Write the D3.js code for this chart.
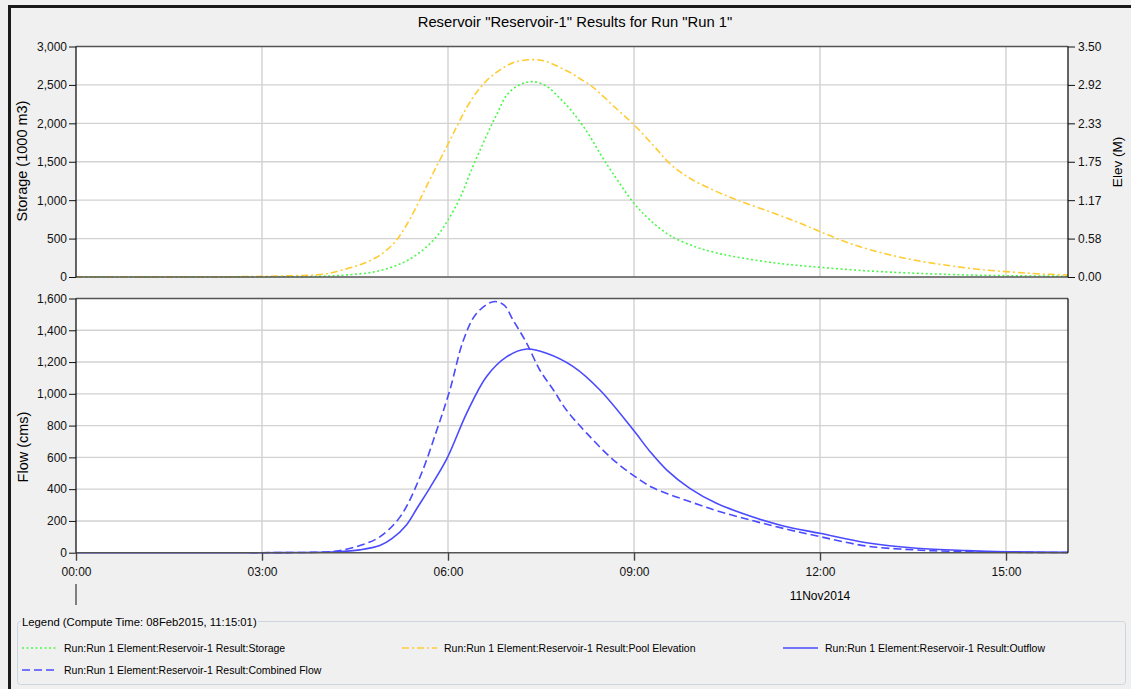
<!DOCTYPE html>
<html>
<head>
<meta charset="utf-8">
<script src="https://cdn.jsdelivr.net/npm/d3@7"></script>
<style>
  body { margin: 0; background: #f0f0f0; }
  svg { display: block; font-family: "Liberation Sans", Arial, sans-serif; }
  .tick text { font-size: 12px; fill: #111; }
</style>
</head>
<body>
<svg id="chart" width="1131" height="689"></svg>
<script>
// hours after 11Nov2014 00:00
const storageHours  = [0, 2, 3, 3.5, 3.9, 4.2, 4.5, 4.8, 5.1, 5.4, 5.65, 5.85, 6.0, 6.2, 6.4, 6.6, 6.8, 6.95, 7.15, 7.37, 7.6, 7.8, 8.0, 8.25, 8.45, 8.65, 9.0, 9.26, 9.58, 10.0, 10.3, 10.6, 11.3, 12.0, 12.8, 13.56, 14.4, 15.2, 16];
const storageValues = [0, 0, 2, 4, 8, 18, 35, 65, 130, 240, 390, 560, 740, 1040, 1436, 1800, 2140, 2370, 2500, 2543, 2478, 2330, 2155, 1880, 1610, 1360, 960, 740, 540, 390, 320, 268, 180, 126, 78, 48, 26, 15, 10];

const elevHours  = [0, 2, 3, 3.5, 3.85, 4.1, 4.42, 4.65, 4.85, 5.0, 5.17, 5.35, 5.55, 5.75, 5.98, 6.15, 6.3, 6.45, 6.62, 6.8, 6.95, 7.1, 7.35, 7.5, 7.65, 7.81, 8.0, 8.13, 8.3, 8.45, 8.7, 8.98, 9.31, 9.58, 9.9, 10.28, 10.66, 11.19, 11.62, 12.0, 12.48, 13.02, 13.56, 14.1, 14.63, 15.17, 15.5, 16];
const elevValues = [0, 0, 0.01, 0.02, 0.03, 0.06, 0.14, 0.21, 0.30, 0.40, 0.56, 0.82, 1.18, 1.56, 1.98, 2.3, 2.57, 2.79, 2.98, 3.12, 3.21, 3.27, 3.30, 3.29, 3.25, 3.18, 3.09, 3.01, 2.91, 2.79, 2.57, 2.33, 2.00, 1.72, 1.50, 1.32, 1.17, 0.99, 0.84, 0.69, 0.51, 0.36, 0.25, 0.17, 0.11, 0.07, 0.05, 0.03];

const outflowHours  = [0, 3, 3.5, 4.0, 4.2, 4.58, 4.9, 5.1, 5.33, 5.5, 5.71, 5.98, 6.3, 6.62, 6.95, 7.27, 7.59, 8.02, 8.45, 8.99, 9.26, 9.53, 9.9, 10.33, 10.87, 11.41, 12.0, 12.75, 13.56, 14.37, 15.0, 16];
const outflowValues = [0, 0, 1, 3, 5, 18, 45, 90, 175, 280, 410, 590, 877, 1108, 1234, 1282, 1255, 1171, 1024, 772, 636, 520, 405, 311, 231, 168, 122, 63, 28, 13, 6, 2];

const combinedHours  = [2.8, 3.5, 4.0, 4.2, 4.58, 4.9, 5.23, 5.55, 5.82, 6.03, 6.25, 6.46, 6.73, 6.9, 7.05, 7.27, 7.48, 7.7, 7.91, 8.24, 8.67, 9.1, 9.3, 9.55, 9.8, 10.06, 10.33, 10.87, 11.41, 12.0, 12.75, 13.56, 14.37, 15.0, 16];
const combinedValues = [0, 1, 4, 10, 45, 100, 227, 478, 772, 1024, 1339, 1506, 1580, 1560, 1464, 1318, 1150, 1024, 898, 751, 583, 457, 410, 370, 335, 300, 265, 206, 153, 101, 42, 17, 6, 3, 1];

const storageTicks = [0, 500, 1000, 1500, 2000, 2500, 3000];
const elevTickLabels = ["0.00", "0.58", "1.17", "1.75", "2.33", "2.92", "3.50"];
const flowTicks = [0, 200, 400, 600, 800, 1000, 1200, 1400, 1600];

const legendItems = [
  "Run:Run 1 Element:Reservoir-1 Result:Storage",
  "Run:Run 1 Element:Reservoir-1 Result:Pool Elevation",
  "Run:Run 1 Element:Reservoir-1 Result:Outflow",
  "Run:Run 1 Element:Reservoir-1 Result:Combined Flow"
];

const green = "#48f848", yellow = "#ffcc33", blue = "#4a4aff";
const styles = [
  {color: green, dash: "2,2.5"},
  {color: yellow, dash: "7,3,2,3"},
  {color: blue, dash: null},
  {color: blue, dash: "8,4"}
];

const day0 = new Date(2014, 10, 11, 0, 0);
const toDate = h => new Date(day0.getTime() + h * 3600e3);
const zip = (hs, vs) => hs.map((h, i) => ({t: toDate(h), v: vs[i]}));

const svg = d3.select("#chart");
const left = 76, right = 1068;
const top1 = 46.5, bot1 = 277, top2 = 298.5, bot2 = 552.7;

const x = d3.scaleTime().domain([toDate(0), toDate(16)]).range([left, right]);
const yS = d3.scaleLinear().domain([0, 3000]).range([bot1, top1]);
const yE = d3.scaleLinear().domain([0, 3.5]).range([bot1, top1]);
const yF = d3.scaleLinear().domain([0, 1600]).range([bot2, top2]);

// outer frame
svg.append("path").attr("d", "M9.5,689 V6.5 H1131").attr("fill", "none")
  .attr("stroke", "#1a1a1a").attr("stroke-width", 3);

svg.append("text").attr("x", 575).attr("y", 27).attr("text-anchor", "middle")
  .style("font-size", "14.8px").text('Reservoir "Reservoir-1" Results for Run "Run 1"');

// plot backgrounds
[[top1, bot1], [top2, bot2]].forEach(([a, b]) => {
  svg.append("rect").attr("x", left).attr("y", a).attr("width", right - left).attr("height", b - a).attr("fill", "#fff");
});

const gridHours = [3, 6, 9, 12, 15];
function grid(yScale, ticks, a, b) {
  const g = svg.append("g").attr("stroke", "#d2d2d2").attr("stroke-width", 1.4);
  g.selectAll(".h").data(ticks.slice(1, -1)).enter().append("line")
    .attr("x1", left).attr("x2", right).attr("y1", d => yScale(d)).attr("y2", d => yScale(d));
  g.selectAll(".v").data(gridHours).enter().append("line")
    .attr("x1", d => x(toDate(d))).attr("x2", d => x(toDate(d))).attr("y1", a).attr("y2", b);
}
grid(yS, storageTicks, top1, bot1);
grid(yF, flowTicks, top2, bot2);

// series
const line = yScale => d3.line().x(d => x(d.t)).y(d => Math.min(yScale(d.v), yScale(0))).curve(d3.curveCatmullRom.alpha(0.5));
function drawSeries(data, yScale, st) {
  svg.append("path").datum(data).attr("fill", "none")
    .attr("stroke", st.color).attr("stroke-width", 1.6)
    .attr("stroke-dasharray", st.dash)
    .attr("d", line(yScale));
}
drawSeries(zip(storageHours, storageValues), yS, styles[0]);
drawSeries(zip(elevHours, elevValues), yE, styles[1]);
drawSeries(zip(outflowHours, outflowValues), yF, styles[2]);
drawSeries(zip(combinedHours, combinedValues), yF, styles[3]);

// frames
function frame(a, b) {
  svg.append("line").attr("x1", left).attr("x2", right).attr("y1", a).attr("y2", a).attr("stroke", "#555").attr("stroke-width", 1.6);
  svg.append("line").attr("x1", left).attr("x2", right).attr("y1", b).attr("y2", b).attr("stroke", "#555").attr("stroke-width", 1.6);
  svg.append("line").attr("x1", left).attr("x2", left).attr("y1", a).attr("y2", b).attr("stroke", "#000").attr("stroke-width", 1.2);
  svg.append("line").attr("x1", right).attr("x2", right).attr("y1", a).attr("y2", b).attr("stroke", "#000").attr("stroke-width", 1.2);
}
frame(top1, bot1);
frame(top2, bot2);

// axes
const axS = svg.append("g").attr("transform", `translate(${left},0)`)
  .call(d3.axisLeft(yS).tickValues(storageTicks).tickFormat(d3.format(",")).tickSize(7).tickPadding(2));
const axE = svg.append("g").attr("transform", `translate(${right},0)`)
  .call(d3.axisRight(yE).tickValues(d3.range(7).map(i => i * 3.5 / 6)).tickFormat((d, i) => elevTickLabels[i]).tickSize(7).tickPadding(3));
const axF = svg.append("g").attr("transform", `translate(${left},0)`)
  .call(d3.axisLeft(yF).tickValues(flowTicks).tickFormat(d3.format(",")).tickSize(7).tickPadding(2));
const axX = svg.append("g").attr("transform", `translate(0,${bot2})`)
  .call(d3.axisBottom(x).ticks(d3.timeHour.every(3)).tickFormat(d3.timeFormat("%H:%M")).tickSize(8).tickPadding(7));
[axS, axE, axF, axX].forEach(a => {
  a.select(".domain").remove();
  a.selectAll(".tick line").attr("stroke", "#111");
  a.attr("font-family", null).attr("font-size", null);
});
axX.selectAll(".tick line").attr("stroke", "#444").attr("stroke-width", 1.4);

// day marker under the first tick
svg.append("line").attr("x1", x(toDate(0))).attr("x2", x(toDate(0))).attr("y1", 584).attr("y2", 605).attr("stroke", "#111");
svg.append("text").attr("x", x(toDate(12))).attr("y", 600).attr("text-anchor", "middle")
  .style("font-size", "12px").text("11Nov2014");

// axis titles
svg.append("text").attr("transform", "translate(27,161) rotate(-90)").attr("text-anchor", "middle")
  .style("font-size", "14.5px").text("Storage (1000 m3)");
svg.append("text").attr("transform", "translate(28,447) rotate(-90)").attr("text-anchor", "middle")
  .style("font-size", "14.5px").text("Flow (cms)");
svg.append("text").attr("transform", "translate(1122,162) rotate(-90)").attr("text-anchor", "middle")
  .style("font-size", "13.5px").text("Elev (M)");

// legend box with titled border
svg.append("rect").attr("x", 17.5).attr("y", 621.5).attr("width", 1108).attr("height", 63).attr("rx", 3)
  .attr("fill", "none").attr("stroke", "#cdd6de");
const mask = svg.append("rect").attr("y", 616).attr("height", 10).attr("fill", "#f0f0f0");
const lt = svg.append("text").attr("x", 22).attr("y", 626).style("font-size", "11.3px")
  .text("Legend (Compute Time: 08Feb2015, 11:15:01)");
const bb = lt.node().getBBox();
mask.attr("x", bb.x - 1).attr("width", bb.width + 2);

const legendPos = [[22, 648], [402, 648], [783, 648], [22, 670]];
legendItems.forEach((name, i) => {
  const [lx, ly] = legendPos[i];
  svg.append("line").attr("x1", lx).attr("x2", lx + 35).attr("y1", ly).attr("y2", ly)
    .attr("stroke", styles[i].color).attr("stroke-width", 1.6).attr("stroke-dasharray", styles[i].dash);
  svg.append("text").attr("x", lx + 42).attr("y", ly + 4).style("font-size", "10.5px").text(name);
});
</script>
</body>
</html>
